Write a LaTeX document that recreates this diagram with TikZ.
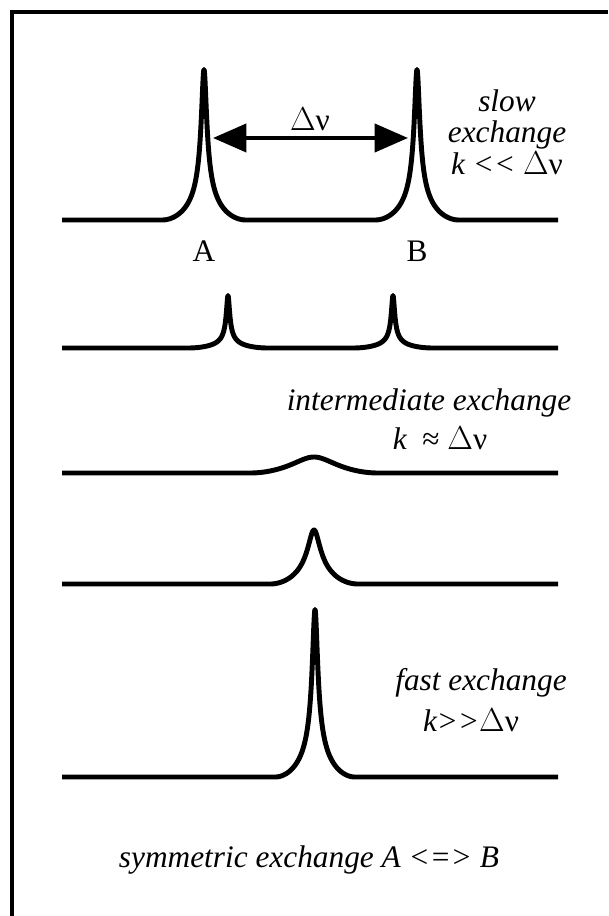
\documentclass[tikz,border=0pt]{standalone}
\usepackage{fontspec}
\setmainfont{Liberation Serif}
\usetikzlibrary{arrows.meta}
\tikzset{
  spec/.style={line width=3.7pt, line join=round, line cap=butt},
  lbl/.style={inner sep=0pt, font=\fontsize{23.5}{23.5}\selectfont\itshape},
  rom/.style={inner sep=0pt, font=\fontsize{23.5}{28}\selectfont},
  declare function={pk(\d,\w,\D)=\w/sqrt(\d*\d+\w*\w)*(1-(\d/\D)*(\d/\D))*(1-(\d/\D)*(\d/\D));}
}
\newcommand{\dnu}{\textup{$\Delta$ν}}
\begin{document}
\begin{tikzpicture}[x=0.75pt, y=-0.75pt]
        \useasboundingbox (0,0) rectangle (608,916);
        \draw[line width=3pt] (11.5,916) -- (11.5,12) -- (608,12);
        % slow exchange
        \draw[spec] (62,220) -- plot[domain=-42:42, samples=253] ({204+\x},{220-150.5*pk(\x,2.5,42)})
            -- plot[domain=-42:42, samples=253] ({417+\x},{220-150.5*pk(\x,2.5,42)}) -- (558,220);
        \coordinate (pA) at (213,138);
        \coordinate (pB) at (408,138);
        \draw[line width=3pt, {Triangle[length=25pt,width=21pt]}-{Triangle[length=25pt,width=21pt]}] (pA) -- (pB);
        \node[rom] (dnu) at (310,119) {$\Delta$ν};
        \node[rom] (la) at (204,251) {A};
        \node[rom] (lb) at (417,251) {B};
        \node[lbl, align=center] (slow) at (507,132) {slow\\exchange\\k <\kern0pt< \dnu};
        % two broadened peaks
        \draw[spec] (62,348) -- plot[domain=-40:40, samples=241] ({228+\x},{348-52.5*pk(\x,1.5,40)})
            -- plot[domain=-40:40, samples=241] ({393+\x},{348-52.5*pk(\x,1.5,40)}) -- (558,348);
        % coalescence
        \node[lbl] (int1) at (429,403) {intermediate exchange};
        \node[lbl] (int2) at (440,438) {k \ \textup{≈} \dnu};
        \draw[spec] (62,473) -- plot[domain=-64:64, samples=129] ({314+\x},{473-16*pk(\x,22,64)}) -- (558,473);
        % narrowing
        \draw[spec] (62,584) -- plot[domain=-44:44, samples=177] ({314+\x},{584-54*pk(\x,6,44)}) -- (558,584);
        % fast exchange
        \draw[spec] (62,777) -- plot[domain=-40:40, samples=241] ({315+\x},{777-167.5*pk(\x,2.5,40)}) -- (558,777);
        \node[lbl] (fast1) at (481,683) {fast exchange};
        \node[lbl] (fast2) at (471,720) {k>\kern0pt>\dnu};
        \node[lbl] (sym) at (309,860) {symmetric exchange A <=> B};
\end{tikzpicture}
\end{document}
